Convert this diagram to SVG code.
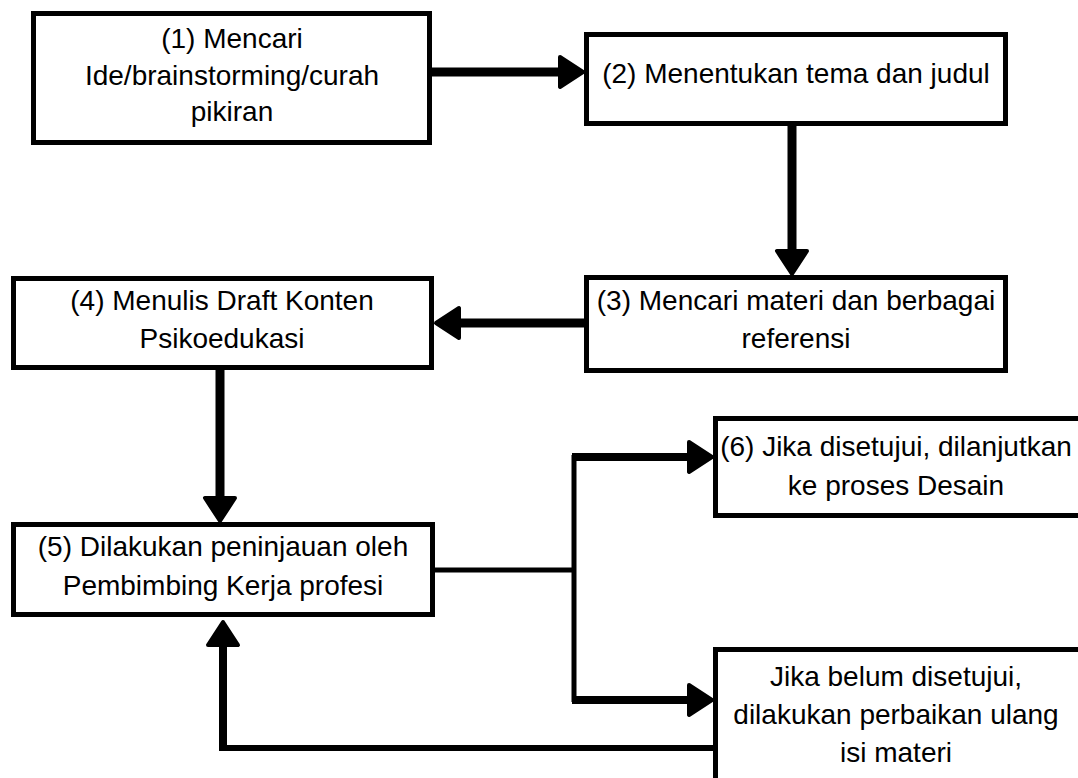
<svg xmlns="http://www.w3.org/2000/svg" width="1078" height="778" viewBox="0 0 1078 778">
<defs>
<style>
.box{fill:#fff;stroke:#000;stroke-width:5}
.t{font-family:"Liberation Sans",Arial,sans-serif;font-size:28px;fill:#000;text-anchor:middle}
.c{fill:none;stroke:#000;stroke-linejoin:miter}
</style>
<marker id="ah" markerUnits="userSpaceOnUse" markerWidth="30" markerHeight="36" viewBox="-3 -2 30 36" refX="1" refY="16" orient="auto">
<path d="M0,1 L23,16 L0,31 Z" fill="#000" stroke="#000" stroke-width="4" stroke-linejoin="round"/>
</marker>
</defs>
<rect width="1078" height="778" fill="#fff"/>
<g id="connectors">
<path class="c" d="M432,72 H561" stroke-width="9" marker-end="url(#ah)"/>
<path class="c" d="M792,126 V252" stroke-width="9" marker-end="url(#ah)"/>
<path class="c" d="M584,323 H458" stroke-width="9" marker-end="url(#ah)"/>
<path class="c" d="M220,370 V499" stroke-width="9" marker-end="url(#ah)"/>
<path class="c" d="M434,570 H574" stroke-width="5"/>
<path class="c" d="M574,455 V702" stroke-width="5"/>
<path class="c" d="M572,457 H690" stroke-width="8" marker-end="url(#ah)"/>
<path class="c" d="M572,700 H690" stroke-width="8" marker-end="url(#ah)"/>
<path class="c" d="M715,748 H219" stroke-width="6"/>
<path class="c" d="M223,751 V644" stroke-width="8" marker-end="url(#ah)"/>
</g>
<g id="node1">
<rect class="box" x="33.5" y="13.5" width="396" height="129"/>
<text class="t" x="232" y="48">(1) Mencari</text>
<text class="t" x="232" y="85">Ide/brainstorming/curah</text>
<text class="t" x="232" y="121">pikiran</text>
</g>
<g id="node2">
<rect class="box" x="586.5" y="34.5" width="419" height="89"/>
<text class="t" x="796" y="83">(2) Menentukan tema dan judul</text>
</g>
<g id="node3">
<rect class="box" x="586.5" y="277.5" width="419" height="93"/>
<text class="t" x="796" y="310">(3) Mencari materi dan berbagai</text>
<text class="t" x="796" y="348">referensi</text>
</g>
<g id="node4">
<rect class="box" x="13.5" y="278.5" width="418" height="89"/>
<text class="t" x="222" y="310">(4) Menulis Draft Konten</text>
<text class="t" x="222" y="348">Psikoedukasi</text>
</g>
<g id="node5">
<rect class="box" x="13.5" y="524.5" width="419" height="90"/>
<text class="t" x="223" y="556">(5) Dilakukan peninjauan oleh</text>
<text class="t" x="223" y="595">Pembimbing Kerja profesi</text>
</g>
<g id="node6">
<rect class="box" x="715.5" y="418.5" width="370" height="97"/>
<text class="t" x="896" y="456">(6) Jika disetujui, dilanjutkan</text>
<text class="t" x="896" y="495">ke proses Desain</text>
</g>
<g id="node7">
<rect class="box" x="715.5" y="649.5" width="370" height="140"/>
<text class="t" x="896" y="686">Jika belum disetujui,</text>
<text class="t" x="896" y="724">dilakukan perbaikan ulang</text>
<text class="t" x="896" y="762">isi materi</text>
</g>
</svg>
